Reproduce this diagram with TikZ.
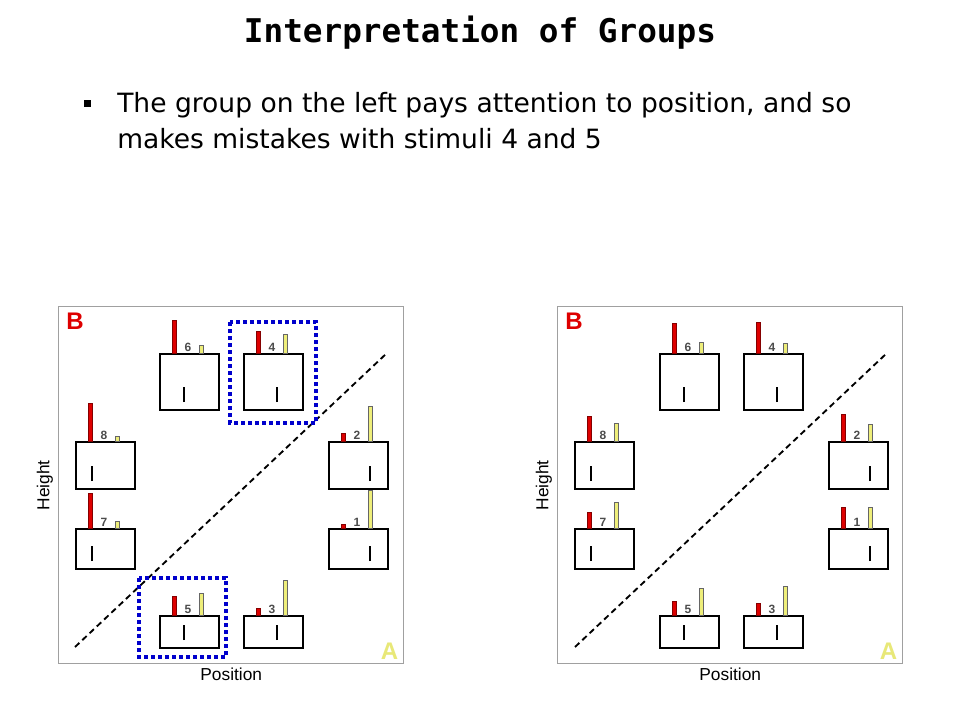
\documentclass[tikz,border=0pt]{standalone}
\usepackage{fontspec}
\setmainfont{Liberation Sans}
\newfontfamily\titlefont{DejaVu Sans Mono}
\newfontfamily\bodyfont{DejaVu Sans}
\usepackage{tikz}
\usetikzlibrary{calc,positioning}

\definecolor{barred}{RGB}{222,0,0}
\definecolor{baryellow}{RGB}{238,238,122}
\definecolor{markA}{RGB}{232,232,120}
\definecolor{focusblue}{RGB}{0,0,204}
\definecolor{framegray}{RGB}{160,160,160}

\tikzset{
  stimbox/.style={draw, line width=1.5pt, minimum width=44.25pt, inner sep=0pt, fill=white},
  stimline/.style={line width=2.2pt},
  redbar/.style={fill=barred, draw=barred!60!black, line width=0.3pt},
  yellowbar/.style={fill=baryellow, draw=black!60, line width=0.3pt},
  stimnum/.style={font=\bfseries\fontsize{9}{10}\selectfont, text=black!70, inner sep=0pt},
  panelframe/.style={draw=framegray, line width=1.1pt, minimum width=258.75pt, minimum height=267.75pt, inner sep=0pt, anchor=north west},
  corner/.style={font=\bfseries\fontsize{18}{20}\selectfont, inner sep=0pt},
  axis label/.style={font=\fontsize{13}{15}\selectfont, inner sep=0pt},
  diag/.style={line width=1.4pt, dash pattern=on 4.5pt off 3pt},
  focus/.style={draw=focusblue, line width=3pt, dash pattern=on 3pt off 2.25pt},
}

% name, x, y, box height, line offset, number, red height, yellow height
\newcommand{\stim}[8]{%
  \node[stimbox, minimum height=#4*0.75pt, anchor=north west] (#1) at (#2,#3) {};
  \draw[stimline] ($(#1.south west)+(#5,-9)$) -- ++(0,-15);
  \draw[redbar] ($(#1.north west)+(13,0)$) rectangle ++(4,-#7);
  \draw[yellowbar] ($(#1.north west)+(40,0)$) rectangle ++(4.5,-#8);
  \node[stimnum] (#1-n) at ($(#1.north west)+(29,-6)$) {#6};
}

\begin{document}
\begin{tikzpicture}[x=0.75pt, y=-0.75pt]
\useasboundingbox[fill=white] (0,0) rectangle (960,720);

\node[font=\titlefont\bfseries\fontsize{24.5}{28}\selectfont, anchor=base] (title) at (480,43) {Interpretation of Groups};
\node[fill=black, minimum size=5.25pt, inner sep=0pt] (bullet) at (87,104) {};
\node[font=\bodyfont\fontsize{19.9}{27}\selectfont, anchor=base west, align=left, inner sep=0pt] (point) at (117,149)
  {The group on the left pays attention to position, and so\\makes mistakes with stimuli 4 and 5};

% left panel
\node[panelframe] (Lframe) at (58,306) {};
\node[corner, text=barred] (LB) at ($(Lframe.north west)+(17,15)$) {B};
\node[corner, text=markA] (LA) at ($(Lframe.south east)+(-15,-13)$) {A};
\node[axis label] (Lpos) at ($(Lframe.south)+(0,10)$) {Position};
\node[axis label, rotate=90] (Lhgt) at ($(Lframe.west)+(-13,0)$) {Height};
\coordinate (Ld1) at (75,647);
\coordinate (Ld2) at (387,353);
\draw[diag] (Ld1) -- (Ld2);
\stim{L6}{159}{353}{56}{25}{6}{33}{8}
\stim{L4}{243}{353}{56}{34}{4}{22}{19}
\stim{L8}{75}{441}{47}{17}{8}{38}{5}
\stim{L2}{328}{441}{47}{42}{2}{8}{35}
\stim{L7}{75}{528}{40}{17}{7}{35}{7}
\stim{L1}{328}{528}{40}{42}{1}{4}{38}
\stim{L5}{159}{615}{32}{25}{5}{19}{22}
\stim{L3}{243}{615}{32}{34}{3}{7}{35}
\draw[focus] ($(L4.north west)+(-13,-31)$) rectangle ($(L4.south east)+(12,12)$);
\draw[focus] ($(L5.north west)+(-20,-37)$) rectangle ($(L5.south east)+(6,8)$);

% right panel
\begin{scope}[xshift=374.25pt]
\node[panelframe] (Rframe) at (58,306) {};
\node[corner, text=barred] (RB) at ($(Rframe.north west)+(17,15)$) {B};
\node[corner, text=markA] (RA) at ($(Rframe.south east)+(-15,-13)$) {A};
\node[axis label] (Rpos) at ($(Rframe.south)+(0,10)$) {Position};
\node[axis label, rotate=90] (Rhgt) at ($(Rframe.west)+(-13,0)$) {Height};
\coordinate (Rd1) at (76,647);
\coordinate (Rd2) at (388,353);
\draw[diag] (Rd1) -- (Rd2);
\stim{R6}{160}{353}{56}{25}{6}{30}{11}
\stim{R4}{244}{353}{56}{34}{4}{31}{10}
\stim{R8}{75}{441}{47}{17}{8}{25}{18}
\stim{R2}{329}{441}{47}{42}{2}{27}{17}
\stim{R7}{75}{528}{40}{17}{7}{16}{26}
\stim{R1}{329}{528}{40}{42}{1}{21}{21}
\stim{R5}{160}{615}{32}{25}{5}{14}{27}
\stim{R3}{244}{615}{32}{34}{3}{12}{29}
\end{scope}
\end{tikzpicture}
\end{document}
